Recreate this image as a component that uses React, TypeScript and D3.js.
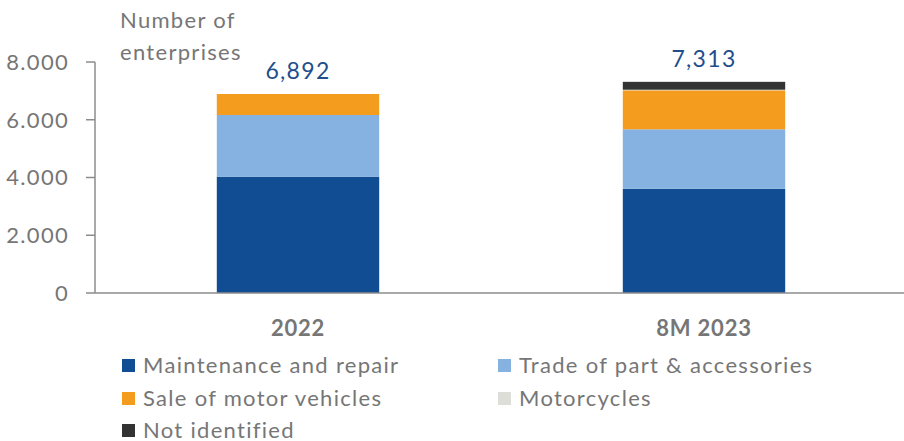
import React from "react";
import * as d3 from "d3";

const categories = ["2022", "8M 2023"];
const seriesNames = ["Maintenance and repair", "Trade of part & accessories", "Sale of motor vehicles", "Motorcycles", "Not identified"];
const maintenance = [4030, 3612];
const trade = [2135, 2057];
const sale = [727, 1351];
const motorcycles = [0, 20];
const notIdentified = [0, 273];
const totals = [6892, 7313];
const yTicks = [0, 2000, 4000, 6000, 8000];
const colors = ["#114D92", "#86B2E2", "#F39C1E", "#DEDED8", "#333333"];

const FONT = "Lato, 'Open Sans', sans-serif";
const LS = 1.3;

export default function App() {
  const W = 904, H = 441;
  const y = d3.scaleLinear().domain([0, 8000]).range([293, 62]);
  const x = d3.scaleBand().domain(categories).range([95, 907]).paddingInner(0.6).paddingOuter(0.3);
  const seriesVals = [maintenance, trade, sale, motorcycles, notIdentified];
  const rows = categories.map((c, i) => {
    const o: any = { cat: c };
    seriesNames.forEach((s, k) => (o[s] = seriesVals[k][i]));
    return o;
  });
  const stacked = d3.stack().keys(seriesNames)(rows);
  const fmtTick = (v: number) => (v === 0 ? "0" : d3.format(",")(v).replace(/,/g, "."));
  const legend = [
    { i: 0, x: 122, y: 365 },
    { i: 1, x: 498, y: 365 },
    { i: 2, x: 122, y: 398 },
    { i: 3, x: 498, y: 398 },
    { i: 4, x: 122, y: 430 },
  ];
  return (
    <svg width={W} height={H} style={{ position: "absolute", left: 0, top: 0, background: "#fff" }} fontFamily={FONT}>
      {stacked.map((layer, k) =>
        layer.map((d, i) => (
          <rect key={k + "-" + i} x={x(categories[i])} width={x.bandwidth()} y={y(d[1])} height={Math.max(0, y(d[0]) - y(d[1]))} fill={colors[k]} />
        ))
      )}
      <line x1={95} x2={904} y1={293} y2={293} stroke="#8C8C8C" strokeWidth={1.5} />
      <line x1={95} x2={95} y1={62} y2={293} stroke="#8C8C8C" strokeWidth={1.5} />
      {yTicks.map((t) => (
        <g key={t}>
          <line x1={86} x2={95} y1={y(t)} y2={y(t)} stroke="#8C8C8C" strokeWidth={1.5} />
          <text x={69} y={y(t)} dy="0.36em" textAnchor="end" fontSize={22} letterSpacing={LS} fill="#767676">{fmtTick(t)}</text>
        </g>
      ))}
      <text x={120} y={28} fontSize={22} letterSpacing={LS} fill="#767676">Number of</text>
      <text x={120} y={60} fontSize={22} letterSpacing={LS} fill="#767676">enterprises</text>
      {categories.map((c, i) => (
        <text key={c} x={x(c)! + x.bandwidth() / 2} y={336} textAnchor="middle" fontSize={22} fontWeight="bold" letterSpacing={0.8} fill="#767676">{c}</text>
      ))}
      {categories.map((c, i) => (
        <text key={"t" + c} x={x(c)! + x.bandwidth() / 2} y={y(totals[i]) - 15} textAnchor="middle" fontSize={23} letterSpacing={LS} fill="#1F4E8C">{d3.format(",")(totals[i])}</text>
      ))}
      {legend.map((l) => (
        <g key={l.i}>
          <rect x={l.x} y={l.y - 6} width={13} height={13} fill={colors[l.i]} />
          <text x={l.x + 21} y={l.y} dy="0.36em" fontSize={22} letterSpacing={LS} fill="#767676">{seriesNames[l.i]}</text>
        </g>
      ))}
    </svg>
  );
}
